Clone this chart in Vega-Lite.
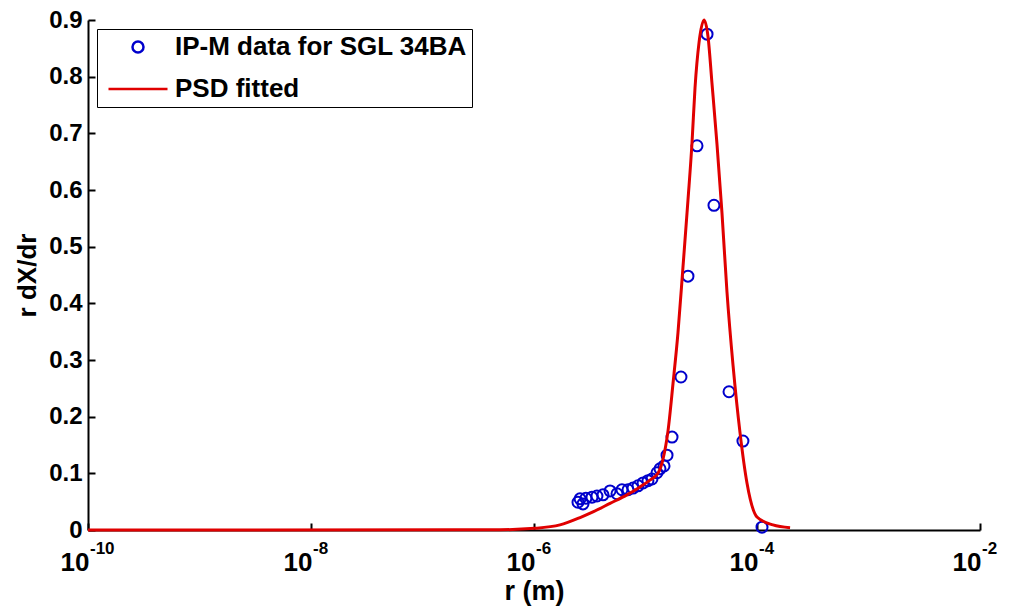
{
  "$schema": "https://vega.github.io/schema/vega-lite/v6.json",
  "autosize": "none",
  "width": 892,
  "height": 510,
  "padding": {"left": 88, "top": 20, "right": 31, "bottom": 82},
  "background": "white",
  "config": {
    "view": {"stroke": null},
    "font": "Liberation Sans",
    "axis": {
      "domainColor": "black",
      "domainWidth": 2,
      "tickColor": "black",
      "tickWidth": 2,
      "tickSize": -7,
      "grid": false,
      "labelFont": "Liberation Sans",
      "labelFontWeight": "bold",
      "labelColor": "black",
      "titleFont": "Liberation Sans",
      "titleFontWeight": "bold",
      "titleColor": "black"
    },
    "legend": {
      "orient": "none",
      "legendX": 9,
      "legendY": 9,
      "strokeColor": "black",
      "fillColor": "white",
      "padding": 5,
      "labelFont": "Liberation Sans",
      "labelFontSize": 26,
      "labelFontWeight": "bold",
      "labelColor": "black",
      "labelLimit": 0,
      "symbolSize": 400,
      "symbolOffset": 23,
      "symbolStrokeWidth": 2.5,
      "rowPadding": 16,
      "labelOffset": 24,
      "title": null
    }
  },
  "datasets": {
    "obs": [
      {"r": 2.48e-6, "y": 0.049},
      {"r": 2.75e-6, "y": 0.046},
      {"r": 2.59e-6, "y": 0.055},
      {"r": 2.92e-6, "y": 0.056},
      {"r": 3.31e-6, "y": 0.058},
      {"r": 3.67e-6, "y": 0.060},
      {"r": 4.16e-6, "y": 0.062},
      {"r": 4.81e-6, "y": 0.069},
      {"r": 5.55e-6, "y": 0.064},
      {"r": 6.15e-6, "y": 0.071},
      {"r": 6.97e-6, "y": 0.071},
      {"r": 7.73e-6, "y": 0.074},
      {"r": 8.57e-6, "y": 0.078},
      {"r": 9.51e-6, "y": 0.083},
      {"r": 1.052e-5, "y": 0.087},
      {"r": 1.143e-5, "y": 0.090},
      {"r": 1.268e-5, "y": 0.101},
      {"r": 1.349e-5, "y": 0.108},
      {"r": 1.466e-5, "y": 0.113},
      {"r": 1.56e-5, "y": 0.132},
      {"r": 1.73e-5, "y": 0.164},
      {"r": 2.08e-5, "y": 0.270},
      {"r": 2.404e-5, "y": 0.448},
      {"r": 2.897e-5, "y": 0.678},
      {"r": 3.565e-5, "y": 0.875},
      {"r": 4.111e-5, "y": 0.573},
      {"r": 5.61e-5, "y": 0.244},
      {"r": 7.48e-5, "y": 0.157},
      {"r": 1.109e-4, "y": 0.005}
    ],
    "fit": [
      {"r": 1e-10, "y": 0},
      {"r": 3.49e-9, "y": 0},
      {"r": 4.95e-7, "y": 0.0005},
      {"r": 1.02e-6, "y": 0.003},
      {"r": 1.71e-6, "y": 0.009},
      {"r": 2.59e-6, "y": 0.022},
      {"r": 3.38e-6, "y": 0.032},
      {"r": 4.81e-6, "y": 0.047},
      {"r": 6.82e-6, "y": 0.062},
      {"r": 8.93e-6, "y": 0.076},
      {"r": 1.096e-5, "y": 0.088},
      {"r": 1.294e-5, "y": 0.100},
      {"r": 1.435e-5, "y": 0.125},
      {"r": 1.592e-5, "y": 0.175},
      {"r": 1.766e-5, "y": 0.259},
      {"r": 1.955e-5, "y": 0.348},
      {"r": 2.168e-5, "y": 0.464},
      {"r": 2.404e-5, "y": 0.582},
      {"r": 2.612e-5, "y": 0.683},
      {"r": 2.78e-5, "y": 0.78},
      {"r": 3.02e-5, "y": 0.86},
      {"r": 3.35e-5, "y": 0.90},
      {"r": 3.64e-5, "y": 0.87},
      {"r": 3.94e-5, "y": 0.79},
      {"r": 4.38e-5, "y": 0.68},
      {"r": 4.85e-5, "y": 0.56},
      {"r": 5.38e-5, "y": 0.42},
      {"r": 6.1e-5, "y": 0.29},
      {"r": 7.05e-5, "y": 0.171},
      {"r": 8.13e-5, "y": 0.083},
      {"r": 1.0e-4, "y": 0.023},
      {"r": 1.39e-4, "y": 0.009},
      {"r": 1.98e-4, "y": 0.004}
    ],
    "exps": [
      {"r": 1e-10, "e": "-10"},
      {"r": 1e-8, "e": "-8"},
      {"r": 1e-6, "e": "-6"},
      {"r": 1e-4, "e": "-4"},
      {"r": 1e-2, "e": "-2"}
    ]
  },
  "layer": [
    {
      "data": {"name": "obs"},
      "transform": [{"calculate": "'IP-M data for SGL 34BA'", "as": "series"}],
      "mark": {"type": "point", "filled": false, "size": 400, "strokeWidth": 2, "opacity": 1, "clip": false},
      "encoding": {
        "x": {
          "field": "r", "type": "quantitative",
          "scale": {"type": "log", "domain": [1e-10, 1e-2], "nice": false},
          "axis": {
            "values": [1e-10, 1e-8, 1e-6, 1e-4, 1e-2],
            "labelExpr": "'10'",
            "labelFontSize": 26,
            "labelAlign": "right",
            "labelOffset": 1,
            "labelBaseline": "alphabetic",
            "labelPadding": 47,
            "title": "r (m)",
            "titleFontSize": 27,
            "titlePadding": 3,
            "labelFlush": false
          }
        },
        "y": {
          "field": "y", "type": "quantitative",
          "scale": {"domain": [0, 0.9], "nice": false},
          "axis": {
            "values": [0, 0.1, 0.2, 0.3, 0.4, 0.5, 0.6, 0.7, 0.8, 0.9],
            "labelExpr": "datum.value == 0 ? '0' : format(datum.value, '.1f')",
            "labelFontSize": 24,
            "labelPadding": 13,
            "title": "r dX/dr",
            "titleFontSize": 26,
            "titlePadding": 8,
            "labelFlush": false
          }
        },
        "color": {
          "field": "series", "type": "nominal",
          "scale": {"domain": ["IP-M data for SGL 34BA", "PSD fitted"], "range": ["#0000cc", "#e00000"]},
          "legend": {"title": null}
        },
        "shape": {
          "field": "series", "type": "nominal",
          "scale": {
            "domain": ["IP-M data for SGL 34BA", "PSD fitted"],
            "range": ["M-0.55,0A0.55,0.55,0,1,1,0.55,0A0.55,0.55,0,1,1,-0.55,0Z", "M-2.95,0H2.95"]
          },
          "legend": {"title": null}
        }
      }
    },
    {
      "data": {"name": "fit"},
      "transform": [{"calculate": "'PSD fitted'", "as": "series"}],
      "mark": {"type": "line", "strokeWidth": 3, "interpolate": "monotone"},
      "encoding": {
        "x": {"field": "r", "type": "quantitative"},
        "y": {"field": "y", "type": "quantitative"},
        "color": {"field": "series", "type": "nominal"}
      }
    },
    {
      "data": {"name": "exps"},
      "mark": {
        "type": "text", "align": "left", "baseline": "alphabetic",
        "dx": 2, "dy": 24, "fontSize": 17, "fontWeight": "bold",
        "font": "Liberation Sans", "color": "black", "clip": false
      },
      "encoding": {
        "x": {"field": "r", "type": "quantitative"},
        "y": {"datum": 0},
        "text": {"field": "e"}
      }
    }
  ]
}
